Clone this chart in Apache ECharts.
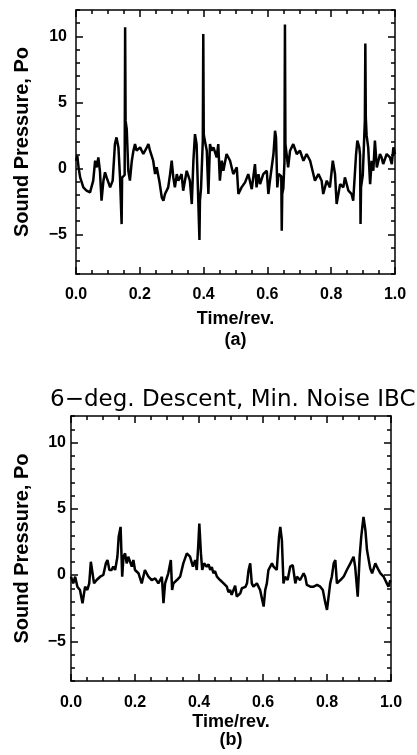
<!DOCTYPE html>
<html><head><meta charset="utf-8">
<script src="https://cdn.jsdelivr.net/npm/echarts@6/dist/echarts.min.js"></script>
<style>html,body{margin:0;padding:0;background:#fff}#c{width:417px;height:755px}</style>
</head><body><div id="c"></div>
<script>
// Panel (a): sound pressure vs time/rev
var timeA = [0.000,0.004,0.008,0.013,0.023,0.033,0.044,0.054,0.060,0.065,0.070,0.075,0.080,0.086,0.091,0.096,0.107,0.115,0.122,0.127,0.133,0.138,0.1415,0.143,0.1445,0.148,0.1525,0.154,0.1555,0.159,0.164,0.169,0.175,0.180,0.185,0.190,0.201,0.211,0.222,0.227,0.232,0.242,0.248,0.253,0.261,0.269,0.274,0.279,0.289,0.295,0.300,0.305,0.310,0.316,0.321,0.331,0.336,0.347,0.357,0.363,0.368,0.373,0.378,0.383,0.3855,0.387,0.3885,0.392,0.3975,0.399,0.4005,0.403,0.410,0.415,0.420,0.425,0.431,0.441,0.446,0.451,0.457,0.462,0.472,0.483,0.493,0.504,0.509,0.519,0.530,0.540,0.545,0.551,0.561,0.566,0.572,0.577,0.587,0.598,0.603,0.608,0.619,0.624,0.627,0.631,0.635,0.6435,0.645,0.6465,0.650,0.6535,0.655,0.6565,0.660,0.665,0.671,0.681,0.692,0.702,0.713,0.723,0.734,0.744,0.749,0.760,0.770,0.775,0.786,0.796,0.805,0.812,0.817,0.828,0.838,0.843,0.854,0.864,0.869,0.878,0.882,0.888,0.8905,0.892,0.8935,0.899,0.9055,0.907,0.9085,0.911,0.916,0.922,0.927,0.932,0.937,0.943,0.953,0.958,0.963,0.974,0.984,0.990,0.995,1.000];
var pressA = [0.58,0.96,0.08,-0.68,-1.44,-1.69,-1.82,-0.93,0.58,0.08,0.83,-0.18,-2.45,-0.93,-0.30,-0.68,-1.44,-0.93,1.84,2.35,1.59,-0.68,-0.8,-4.22,-0.7,-0.68,-0.5,10.7,3.6,3.0,-0.18,-0.93,0.58,1.34,1.84,1.34,1.59,1.09,1.59,1.84,1.34,0.58,-0.43,0.08,-0.93,-2.2,-2.45,-1.94,-1.44,-0.43,0.58,-0.68,-1.44,-0.43,-0.93,-0.43,-1.69,-0.18,-0.93,-2.7,0.58,2.6,1.84,-2.2,-2.3,-5.43,-2.45,-1.5,2.1,10.18,2.6,2.2,1.34,-1.94,1.84,1.34,1.59,0.83,1.84,-0.93,0.58,-0.18,1.09,0.58,-0.43,0.08,-1.94,-1.44,-1.06,-0.43,-0.93,-1.57,0.33,-1.44,-0.43,-1.19,-0.43,-0.18,-1.94,-0.93,1.09,2.85,2.35,-1.44,-0.43,-0.6,-4.72,-1.94,-1.5,0.5,10.9,1.84,1.84,0.08,1.34,1.84,1.09,1.34,0.58,1.09,0.58,-0.43,-0.93,-0.43,-0.93,-1.94,-0.93,-1.44,0.58,-0.43,-2.7,-1.19,-1.44,-0.68,-1.69,-1.94,-2.45,1.09,2.1,1.59,1.0,-4.22,-1.44,-0.5,3.6,9.47,3.86,2.5,1.59,-1.19,0.58,-0.18,2.1,0.08,1.09,0.83,0.33,1.09,0.83,0.33,1.59,1.09];
// Panel (b): 6-deg descent, min. noise IBC
var timeB = [0.000,0.007,0.013,0.020,0.028,0.036,0.044,0.051,0.057,0.062,0.068,0.072,0.080,0.091,0.101,0.109,0.114,0.120,0.127,0.132,0.138,0.145,0.149,0.155,0.160,0.164,0.169,0.174,0.179,0.190,0.195,0.200,0.211,0.221,0.231,0.242,0.252,0.263,0.273,0.284,0.289,0.294,0.304,0.312,0.316,0.320,0.331,0.341,0.351,0.362,0.372,0.381,0.388,0.393,0.398,0.401,0.406,0.410,0.416,0.424,0.430,0.435,0.440,0.445,0.450,0.456,0.461,0.466,0.471,0.477,0.482,0.487,0.492,0.497,0.502,0.508,0.513,0.518,0.523,0.529,0.534,0.539,0.545,0.550,0.555,0.560,0.565,0.570,0.581,0.591,0.602,0.607,0.612,0.617,0.628,0.633,0.643,0.650,0.654,0.659,0.664,0.669,0.677,0.685,0.693,0.701,0.706,0.716,0.727,0.732,0.737,0.748,0.758,0.769,0.779,0.787,0.795,0.800,0.805,0.810,0.815,0.821,0.826,0.831,0.842,0.852,0.862,0.873,0.883,0.888,0.896,0.902,0.907,0.914,0.920,0.925,0.930,0.935,0.941,0.951,0.961,0.967,0.977,0.987,0.992,0.998];
var pressB = [-0.13,-0.63,-0.13,-0.88,-1.13,-2.13,-0.88,-1.13,-0.63,1.0,0.88,-0.63,-0.38,-0.13,0,0.88,1.13,0.38,0.38,0.63,0.38,1.38,2.88,3.63,-0.13,1.38,1.63,0.88,1.38,0.63,1.13,0.38,0.13,-0.63,0.38,-0.13,-0.38,-0.25,-0.63,-0.13,-2.13,-0.63,0.13,1.13,-1.13,-0.63,-0.38,-0.13,0.88,1.63,1.38,0.63,1.13,0.38,2.38,3.88,1.63,0.38,0.88,0.63,0.8,0.38,0.6,0.13,0.3,-0.13,0.0,-0.38,-0.3,-0.63,-0.5,-0.88,-1.3,-1.13,-1.5,-1.38,-0.8,-1.63,-1.75,-1.38,-1.0,-1.13,-0.9,-0.63,0.38,0.88,-0.63,-0.88,-0.63,-1.13,-2.38,-1.13,-0.63,0.38,0.88,0.63,0.38,2.88,3.63,2.63,-0.63,-0.13,-0.38,0.63,0.75,-0.63,-0.13,-0.38,0.13,-0.13,-0.75,-0.88,-0.88,-0.75,-0.88,-1.13,-2.13,-2.63,-1.63,-0.63,-0.13,0.88,1.13,-0.63,-0.38,-0.13,0.38,0.88,1.38,0.63,-1.63,1.38,2.88,4.38,3.38,1.88,1.88,0.5,0.13,0.88,0.38,0.13,-0.13,-0.63,-0.88,-0.38];
var xTicks = [0, 1, 0.2];
var yLabelValues = [-5, 0, 5, 10];
var yRange = [-8, 12];
var titleB = '6\u2212deg. Descent, Min. Noise IBC';
var yName = 'Sound Pressure, Po';
var xName = 'Time/rev.';

function zip(a, b) { return a.map(function (t, i) { return [t, b[i]]; }); }
var FF = 'Liberation Sans';
var lineSt = {color: '#000', width: 1.5};

function xAx(grid, pos, showLab, margin, nameGap, nm, lh) {
  return {
    type: 'value', gridIndex: grid, position: pos, min: xTicks[0], max: xTicks[1], interval: xTicks[2],
    axisLine: {show: true, onZero: false, lineStyle: lineSt},
    axisTick: {show: true, inside: true, length: 7, lineStyle: {color: '#000', width: 1.5}},
    minorTick: {show: true, splitNumber: 4, length: 4, lineStyle: {color: '#000', width: 1.5}},
    splitLine: {show: false},
    axisLabel: {show: showLab, margin: margin, formatter: function (v) { return v.toFixed(1); }, fontFamily: FF, fontWeight: 'bold', fontSize: 16, color: '#000'},
    name: showLab ? nm : '', nameLocation: 'middle', nameGap: nameGap,
    nameTextStyle: {fontFamily: FF, fontWeight: 'bold', fontSize: 18, color: '#000', lineHeight: lh || 18}
  };
}
function yAxMajor(grid, pos, showLab, margin, nameGap) {
  return {
    type: 'value', gridIndex: grid, position: pos, min: yRange[0], max: yRange[1], interval: 1,
    axisLine: {show: true, onZero: false, lineStyle: lineSt},
    axisTick: {show: true, inside: true, length: 7, customValues: yLabelValues, lineStyle: {color: '#000', width: 1.5}},
    splitLine: {show: false},
    axisLabel: {show: showLab, margin: margin, customValues: yLabelValues, fontFamily: FF, fontWeight: 'bold', fontSize: 16, color: '#000',
      formatter: function (v) { return v < 0 ? '\u2212' + Math.abs(v) : String(v); }},
    name: showLab ? yName : '', nameLocation: 'middle', nameGap: nameGap, nameRotate: 90,
    nameTextStyle: {fontFamily: FF, fontWeight: 'bold', fontSize: 20, color: '#000'}
  };
}
function yAxMinor(grid, pos) {
  return {
    type: 'value', gridIndex: grid, position: pos, min: yRange[0], max: yRange[1], interval: 1,
    axisLine: {show: false, onZero: false}, splitLine: {show: false}, axisLabel: {show: false},
    axisTick: {show: true, inside: true, length: 4, lineStyle: {color: '#000', width: 1.5}}
  };
}

var chart = echarts.init(document.getElementById('c'), null, {renderer: 'canvas'});
chart.setOption({
  animation: false,
  backgroundColor: '#fff',
  title: {text: titleB, left: 45, top: 384, textStyle: {fontFamily: 'DejaVu Sans', fontWeight: 'normal', fontSize: 23, color: '#000'}},
  grid: [
    {left: 76, top: 10, width: 319, height: 264},
    {left: 71, top: 416, width: 320, height: 265}
  ],
  xAxis: [
    xAx(0, 'bottom', true, 13, 35, xName + '\n(a)', 21),
    xAx(0, 'top', false, 0, 0, ''),
    xAx(1, 'bottom', true, 14, 32, xName + '\n(b)', 18),
    xAx(1, 'top', false, 0, 0, '')
  ],
  yAxis: [
    yAxMajor(0, 'left', true, 9, 44),
    yAxMajor(0, 'right', false, 0, 0),
    yAxMinor(0, 'left'),
    yAxMinor(0, 'right'),
    yAxMajor(1, 'left', true, 5, 39),
    yAxMajor(1, 'right', false, 0, 0),
    yAxMinor(1, 'left'),
    yAxMinor(1, 'right')
  ],
  series: [
    {type: 'line', xAxisIndex: 0, yAxisIndex: 0, data: zip(timeA, pressA), showSymbol: false, smooth: false, lineStyle: {color: '#000', width: 2.5}},
    {type: 'line', xAxisIndex: 2, yAxisIndex: 4, data: zip(timeB, pressB), showSymbol: false, smooth: false, lineStyle: {color: '#000', width: 2.5}}
  ]
});
</script></body></html>
